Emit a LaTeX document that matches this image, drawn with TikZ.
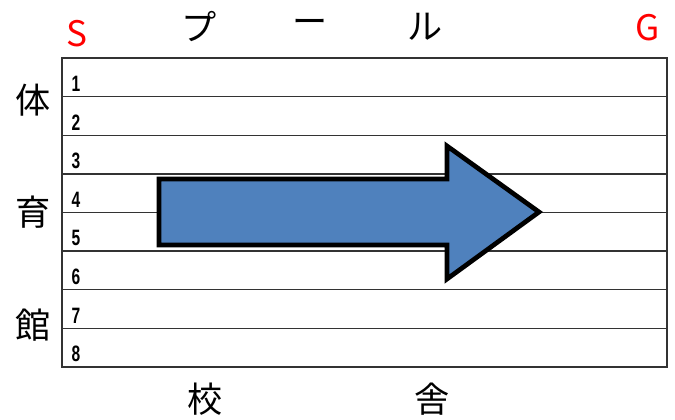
\documentclass[tikz,border=0pt]{standalone}
\usepackage{fontspec}
\usepackage{graphicx}
\newfontfamily\jpfont{Noto Sans CJK JP}
\setsansfont{Liberation Sans}
\definecolor{arrowblue}{RGB}{79,129,189}
\tikzset{
  jp/.style={font=\jpfont\fontsize{30}{31}\selectfont, inner sep=0pt},
  mark letter/.style={jp, text=red},
  lane number/.style={font=\sffamily\bfseries\fontsize{19}{20}\selectfont, inner sep=0pt},
  lane line/.style={line width=1.2pt, black!80}
}
\begin{document}
\begin{tikzpicture}[x=0.03cm,y=-0.03cm]

\useasboundingbox (0,0) rectangle (675,419);

\begin{scope}[scale=1]

% pool lanes
\draw[lane line] (62,58) rectangle (667,367);
\foreach \i in {1,...,7}
  \draw[lane line] (62,{58+38.625*\i}) -- (667,{58+38.625*\i});
\foreach \i in {1,...,8}
  \node[lane number] (n\i) at (76,{58+38.625*\i-13}) {\scalebox{0.7}[1]{\i}};

% arrow
\draw[line width=4pt, fill=arrowblue, line join=miter]
  (159,179) -- (447,179) -- (447,146) -- (539,212) -- (447,279) -- (447,245) -- (159,245) -- cycle;

% labels
\node[mark letter] (s) at (77,34) {S};
\node[mark letter] (g) at (648,28) {G};
\node[jp] (pu) at (199,27) {プ};
\node[jp] (bar) at (310,27) {ー};
\node[jp] (ru) at (425,27) {ル};
\node[jp] (tai) at (33,100) {体};
\node[jp] (iku) at (33,212) {育};
\node[jp] (kan) at (33,325) {館};
\node[jp] (kou) at (205,399) {校};
\node[jp] (sha) at (432,399) {舎};

\end{scope};

\end{tikzpicture}
\end{document}
